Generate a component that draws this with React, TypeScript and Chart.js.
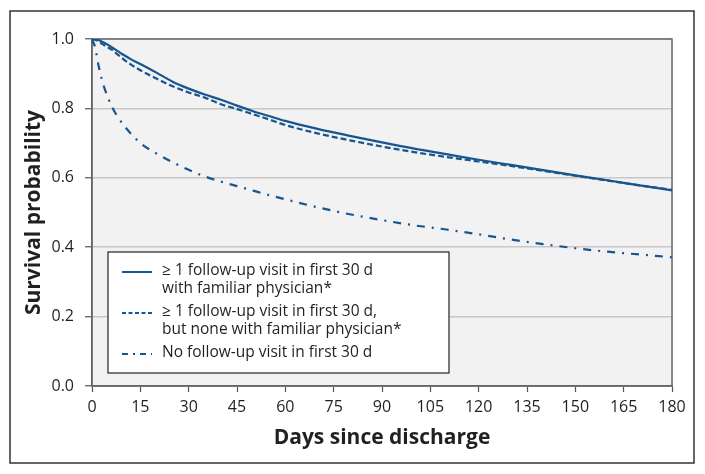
import React, { useEffect, useRef } from "react";
import { Chart, registerables } from "chart.js";

Chart.register(...registerables);

// Days since discharge at which survival was read
const days = [0, 1, 2, 3, 4, 5, 6, 8, 10, 12, 15, 20, 25, 30, 35, 40, 45, 50, 55, 60, 70, 80, 90, 100, 110, 120, 130, 140, 150, 160, 170, 180];

// ≥1 follow-up visit in first 30 d with familiar physician
const familiarPhysician = [1.0, 1.0, 0.997, 0.993, 0.988, 0.983, 0.977, 0.965, 0.953, 0.942, 0.928, 0.903, 0.877, 0.857, 0.840, 0.825, 0.808, 0.792, 0.778, 0.764, 0.741, 0.721, 0.702, 0.684, 0.668, 0.652, 0.637, 0.622, 0.607, 0.593, 0.578, 0.564];

// ≥1 follow-up visit in first 30 d, but none with familiar physician
const otherPhysician = [1.0, 0.998, 0.993, 0.987, 0.981, 0.975, 0.970, 0.955, 0.940, 0.927, 0.910, 0.886, 0.864, 0.846, 0.831, 0.812, 0.798, 0.783, 0.768, 0.752, 0.728, 0.708, 0.690, 0.674, 0.660, 0.647, 0.634, 0.620, 0.606, 0.592, 0.578, 0.565];

// No follow-up visit in first 30 d
const noFollowUp = [1.0, 0.975, 0.925, 0.885, 0.855, 0.830, 0.808, 0.775, 0.750, 0.728, 0.700, 0.670, 0.645, 0.623, 0.604, 0.589, 0.576, 0.563, 0.550, 0.538, 0.515, 0.495, 0.478, 0.463, 0.451, 0.437, 0.422, 0.409, 0.397, 0.387, 0.379, 0.371];

const xTicks = [0, 15, 30, 45, 60, 75, 90, 105, 120, 135, 150, 165, 180];
const yTicks = [0, 0.2, 0.4, 0.6, 0.8, 1.0];

const legendLabels = [
  ["\u2265 1 follow-up visit in first 30 d", "with familiar physician*"],
  ["\u2265 1 follow-up visit in first 30 d,", "but none with familiar physician*"],
  ["No follow-up visit in first 30 d"],
];

const xTitle = "Days since discharge";
const yTitle = "Survival probability";

const LINE = "#17558f";
const TEXT = "#231f20";
const FONT = "'Open Sans', 'Noto Sans', sans-serif";

const plotDashes = [[], [6, 3], [8, 7, 2, 7]];
const legendDashes = [[], [4, 2.5], [6, 5, 2, 5]];

const framePlugin = {
  id: "frame",
  beforeDraw(chart: any) {
    const { ctx, chartArea } = chart;
    ctx.save();
    ctx.fillStyle = "#ffffff";
    ctx.fillRect(0, 0, chart.width, chart.height);
    ctx.strokeStyle = "#333333";
    ctx.lineWidth = 1.5;
    ctx.strokeRect(10, 11, 684, 452);
    ctx.fillStyle = "#f2f2f2";
    ctx.fillRect(chartArea.left, chartArea.top, chartArea.right - chartArea.left, chartArea.bottom - chartArea.top);
    ctx.restore();
  },
  beforeDatasetsDraw(chart: any) {
    const { ctx, chartArea } = chart;
    ctx.save();
    ctx.strokeStyle = "#666666";
    ctx.lineWidth = 1.5;
    ctx.strokeRect(chartArea.left, chartArea.top, chartArea.right - chartArea.left, chartArea.bottom - chartArea.top);
    ctx.restore();
  },
  afterDatasetsDraw(chart: any) {
    const { ctx } = chart;
    ctx.save();
    const bx = 108, by = 252, bw = 341, bh = 121;
    ctx.fillStyle = "#ffffff";
    ctx.fillRect(bx, by, bw, bh);
    ctx.strokeStyle = "#222222";
    ctx.lineWidth = 1.2;
    ctx.strokeRect(bx, by, bw, bh);
    const entryY = [271, 312, 353];
    ctx.font = `15.5px ${FONT}`;
    ctx.fillStyle = TEXT;
    ctx.textBaseline = "middle";
    ctx.textAlign = "left";
    legendLabels.forEach((lines, i) => {
      const y0 = entryY[i];
      ctx.beginPath();
      ctx.setLineDash(legendDashes[i]);
      ctx.strokeStyle = LINE;
      ctx.lineWidth = 2;
      ctx.moveTo(122, y0 + 1);
      ctx.lineTo(152, y0 + 1);
      ctx.stroke();
      ctx.setLineDash([]);
      lines.forEach((t, j) => {
        ctx.fillText(t, 162, y0 + j * 18);
      });
    });
    ctx.restore();
  },
};

export default function App() {
  const ref = useRef<HTMLCanvasElement>(null);
  useEffect(() => {
    if (!ref.current) return;
    const series = [familiarPhysician, otherPhysician, noFollowUp];
    const chart = new Chart(ref.current, {
      type: "line",
      data: {
        datasets: series.map((s, i) => ({
          label: legendLabels[i].join(" "),
          data: days.map((d, k) => ({ x: d, y: s[k] })),
          borderColor: LINE,
          borderWidth: 2.2,
          borderDash: plotDashes[i],
          pointRadius: 0,
          fill: false,
          cubicInterpolationMode: "monotone" as const,
        })),
      },
      options: {
        animation: false,
        responsive: false,
        maintainAspectRatio: false,
        events: [],
        layout: { padding: { top: 39, right: 33, left: 0, bottom: 0 } },
        plugins: { legend: { display: false }, tooltip: { enabled: false } },
        scales: {
          x: {
            type: "linear",
            min: 0,
            max: 180,
            afterBuildTicks: (scale: any) => {
              scale.ticks = xTicks.map((v) => ({ value: v }));
            },
            afterFit: (scale: any) => {
              scale.height = 88;
            },
            ticks: {
              color: TEXT,
              font: { family: FONT, size: 16 },
              padding: 6,
              maxRotation: 0,
              autoSkip: false,
            },
            grid: {
              drawOnChartArea: false,
              drawTicks: true,
              tickLength: 6,
              tickColor: "#555555",
              tickWidth: 1.2,
            },
            border: { display: true, color: "#666666", width: 1.5 },
            title: {
              display: true,
              text: xTitle,
              color: TEXT,
              font: { family: FONT, size: 21, weight: "bold" },
              padding: { top: 0, bottom: 23 },
            },
          },
          y: {
            type: "linear",
            min: 0,
            max: 1,
            afterBuildTicks: (scale: any) => {
              scale.ticks = yTicks.map((v) => ({ value: v }));
            },
            afterFit: (scale: any) => {
              scale.width = 92;
            },
            ticks: {
              color: TEXT,
              font: { family: FONT, size: 16 },
              padding: 11,
              callback: (v: any) => Number(v).toFixed(1),
            },
            grid: {
              drawOnChartArea: true,
              color: "#c8c8c8",
              lineWidth: 1.5,
              drawTicks: true,
              tickLength: 7,
              tickColor: "#555555",
              tickWidth: 1.2,
            },
            border: { display: true, color: "#666666", width: 1.5 },
            title: {
              display: true,
              text: yTitle,
              color: TEXT,
              font: { family: FONT, size: 21, weight: "bold" },
              padding: { top: 21, bottom: 0 },
            },
          },
        },
      },
      plugins: [framePlugin],
    });
    return () => chart.destroy();
  }, []);
  return (
    <div style={{ position: "absolute", left: 0, top: 0, width: 705, height: 474 }}>
      <canvas ref={ref} width={705} height={474} style={{ width: 705, height: 474, display: "block" }} />
    </div>
  );
}
